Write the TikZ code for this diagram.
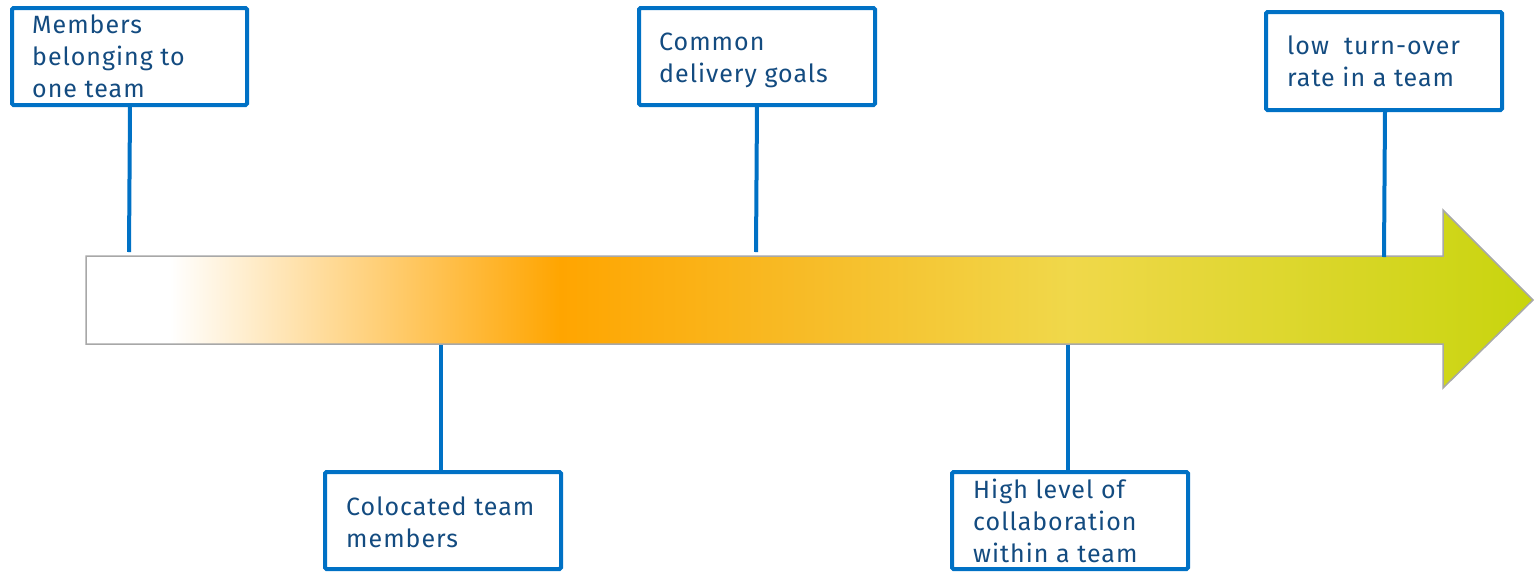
\documentclass[tikz,border=0pt]{standalone}
\usepackage{fontspec}
\setmainfont{Fira Sans}[LetterSpace=4]
\definecolor{boxblue}{HTML}{0071C5}
\definecolor{txtblue}{HTML}{134B80}
\definecolor{arrgray}{HTML}{A8A8A8}
\definecolor{gorange}{HTML}{FFA500}
\definecolor{gmid}{HTML}{F7BC28}
\definecolor{gyellow}{HTML}{F0D84A}
\definecolor{ggreen}{HTML}{C8D50E}
\pgfdeclarehorizontalshading{timeline}{100bp}{color(0bp)=(white); color(25bp)=(white); color(27.9bp)=(white); color(41.4bp)=(gorange); color(50bp)=(gmid); color(59bp)=(gyellow); color(75bp)=(ggreen); color(100bp)=(ggreen)}
\begin{document}
\begin{tikzpicture}[x=1pt,y=-1pt,
  infobox/.style={draw=boxblue, line width=4pt, rounded corners=1.5pt},
  infotext/.style={anchor=north west, inner sep=0pt, align=left, text=txtblue, font={\fontsize{25}{32}\selectfont}},
  link/.style={draw=boxblue, line width=4pt}]
\useasboundingbox (0,0) rectangle (1535,571);
% arrow
\path[shading=timeline, draw=arrgray, line width=1.5pt]
  (86,256) -- (1443,256) -- (1443,210) -- (1533,300) -- (1443,388) -- (1443,344) -- (86,344) -- cycle;
% boxes
\draw[infobox] (12,8) rectangle (247,105);
\node[infotext] (t1) at (32,10.6) {\strut Members\\belonging to\\one team};
\draw[infobox] (639,8) rectangle (875,105);
\node[infotext] (t2) at (659,27.6) {\strut Common\\delivery goals};
\draw[infobox] (1266,12) rectangle (1502,110);
\node[infotext] (t3) at (1287,31.6) {\strut low\ \ turn-over\\rate in a team};
\draw[infobox] (325,472) rectangle (561,569);
\node[infotext] (t4) at (346,492.6) {\strut Colocated team\\members};
\draw[infobox] (952,472) rectangle (1188,569);
\node[infotext] (t5) at (973,475.6) {\strut High level of\\collaboration\\within a team};
% connectors
\coordinate (b1) at (130,106); \coordinate (e1) at (129,252);
\coordinate (b2) at (757,106); \coordinate (e2) at (756,252);
\coordinate (b3) at (1385,111); \coordinate (e3) at (1384,257);
\coordinate (b4) at (441,345); \coordinate (e4) at (441,471);
\coordinate (b5) at (1068,345); \coordinate (e5) at (1068,471);
\draw[link] (b1) -- (e1);
\draw[link] (b2) -- (e2);
\draw[link] (b3) -- (e3);
\draw[link] (b4) -- (e4);
\draw[link] (b5) -- (e5);
\end{tikzpicture}
\end{document}
